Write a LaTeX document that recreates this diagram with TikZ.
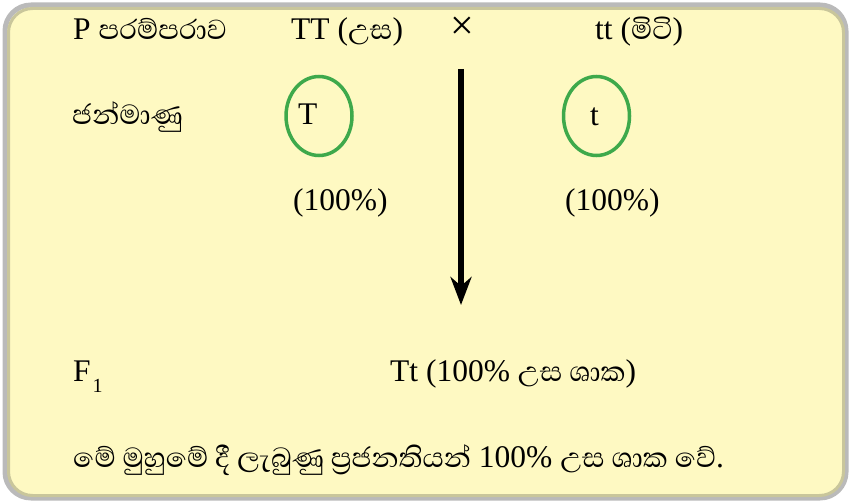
\documentclass[tikz,border=0pt]{standalone}
\usepackage{fontspec}
\setmainfont{Liberation Serif}
\newfontfamily\sinhalafont[Script=Sinhala,Scale=1.12]{Abhaya Libre}
\usetikzlibrary{arrows.meta,shapes.geometric}
\definecolor{frameGrey} {HTML}{BABABA}
\definecolor{frameOlive}{HTML}{C9C69B}
\definecolor{paperC}    {HTML}{FEF9C2}
\definecolor{gameteC}   {HTML}{3EA94B}
\tikzset{
  >={Stealth[length=28pt,width=21pt,inset=9pt]},
  txt/.style={anchor=base west,inner sep=0pt,font=\fontsize{31.5}{36}\selectfont},
  gamete/.style={draw=gameteC,line width=3.5pt,ellipse,minimum width=66pt,
    minimum height=79pt,inner sep=0pt},
}

\begin{document}
\begin{tikzpicture}[x=1pt,y=-1pt]
\useasboundingbox (0,0) rectangle (850,502);
% card
\draw[frameGrey,line width=5pt,rounded corners=26pt] (5,5) rectangle (846,498);
\draw[frameOlive,fill=paperC,line width=3pt,rounded corners=24pt] (8.5,8.5) rectangle (843.5,495.5);

% parents
\node[txt] (pGen) at (73,40) {P {\sinhalafont පරම්පරාව}};
\node[txt] (pTall) at (291,40) {TT ({\sinhalafont උස})};
\node[inner sep=0pt,font=\fontsize{42}{44}\selectfont] (cross) at (462,28) {×};
\node[txt] (pShort) at (595,40) {tt ({\sinhalafont මිටි})};

% gametes
\node[txt] (gamLbl) at (72,125) {\sinhalafont ජන්මාණු};
\node[gamete] (gT) at (319,116) {};
\node[gamete] (gt) at (596.5,116) {};
\node[txt] (lT) at (298,125) {T};
\node[txt] (lt) at (590,126) {t};
\node[txt] (pcT) at (293,211) {(100\%)};
\node[txt] (pct) at (565,211) {(100\%)};

\coordinate (arrTop) at (461,69);
\coordinate (arrTip) at (461,305);
\draw[->,line width=5.5pt] (arrTop) -- (arrTip);

% F1
\node[txt] (fOne) at (73,381) {F\hspace{2pt}\raisebox{-11pt}{\fontsize{20}{20}\selectfont 1}};
\node[txt] (fRes) at (390,381) {Tt (100\% {\sinhalafont උස ශාක})};
\node[txt] (note) at (73,467) {{\sinhalafont මේ මුහුමේ දී ලැබුණු ප්^^^^200dරජනතියන්} 100\% {\sinhalafont උස ශාක වේ}.};
\end{tikzpicture}
\end{document}
